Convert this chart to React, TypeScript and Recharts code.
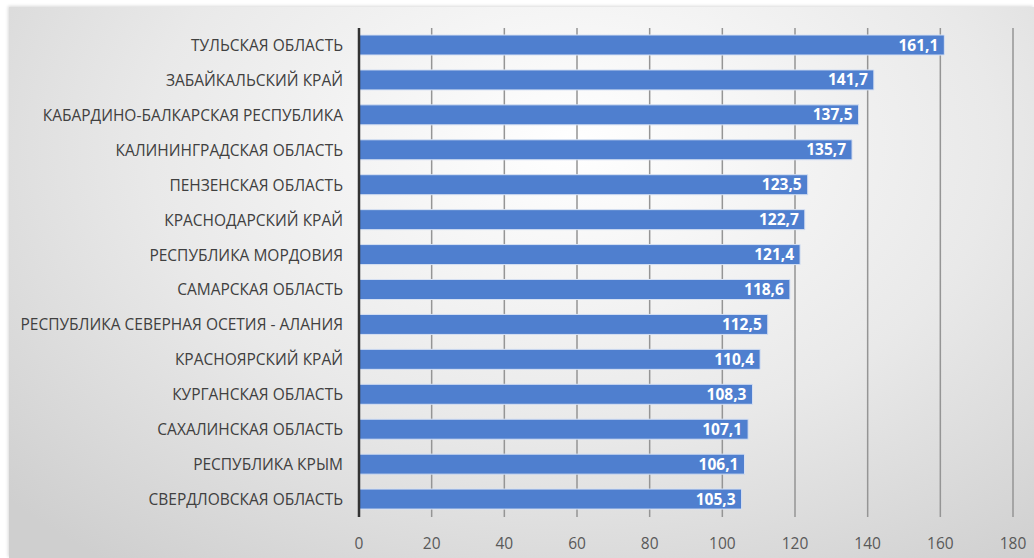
import { BarChart, Bar, XAxis, YAxis, CartesianGrid, LabelList } from "recharts";

const regions = [
  "ТУЛЬСКАЯ ОБЛАСТЬ",
  "ЗАБАЙКАЛЬСКИЙ КРАЙ",
  "КАБАРДИНО-БАЛКАРСКАЯ РЕСПУБЛИКА",
  "КАЛИНИНГРАДСКАЯ ОБЛАСТЬ",
  "ПЕНЗЕНСКАЯ ОБЛАСТЬ",
  "КРАСНОДАРСКИЙ КРАЙ",
  "РЕСПУБЛИКА МОРДОВИЯ",
  "САМАРСКАЯ ОБЛАСТЬ",
  "РЕСПУБЛИКА СЕВЕРНАЯ ОСЕТИЯ - АЛАНИЯ",
  "КРАСНОЯРСКИЙ КРАЙ",
  "КУРГАНСКАЯ ОБЛАСТЬ",
  "САХАЛИНСКАЯ ОБЛАСТЬ",
  "РЕСПУБЛИКА КРЫМ",
  "СВЕРДЛОВСКАЯ ОБЛАСТЬ",
];

const values = [161.1, 141.7, 137.5, 135.7, 123.5, 122.7, 121.4, 118.6, 112.5, 110.4, 108.3, 107.1, 106.1, 105.3];

const xTicks = [0, 20, 40, 60, 80, 100, 120, 140, 160, 180];

const data = regions.map((region, i) => ({ region, value: values[i] }));

const font = "'Open Sans', 'DejaVu Sans', sans-serif";

export default function App() {
  return (
    <div style={{ position: "absolute", left: 0, top: 0, width: 1034, height: 558, background: "#fff" }}>
      <div
        style={{
          position: "absolute",
          left: 9,
          top: 7,
          width: 1025,
          height: 551,
          background: "radial-gradient(ellipse 75% 95% at 55% 25%, #ffffff 0%, #e9e9e9 55%, #cfcfcf 100%)",
          boxShadow: "-1px -1px 3px rgba(0,0,0,0.15)",
        }}
      />
      <div style={{ position: "absolute", left: 0, top: 0 }}>
        <BarChart
          width={1034}
          height={558}
          data={data}
          layout="vertical"
          margin={{ top: 28, right: 21, bottom: 11, left: 0 }}
        >
          <CartesianGrid horizontal={false} stroke="#959595" strokeWidth={1.5} />
          <XAxis
            type="number"
            domain={[0, 180]}
            ticks={xTicks}
            height={30}
            axisLine={false}
            tickLine={false}
            tickMargin={15}
            tick={{ fill: "#595959", fontSize: 15.5, fontFamily: font }}
          />
          <YAxis
            type="category"
            dataKey="region"
            width={359}
            axisLine={{ stroke: "#333", strokeWidth: 2.5 }}
            tickLine={false}
            tickMargin={10}
            tick={{ fill: "#404040", fontSize: 15.5, fontFamily: font }}
          />
          <Bar dataKey="value" fill="#4f7fcf" stroke="#d6e0f2" strokeWidth={1} barSize={20} isAnimationActive={false}>
            <LabelList
              dataKey="value"
              position="insideRight"
              offset={6}
              formatter={(v: number) => v.toFixed(1).replace(".", ",")}
              style={{ fill: "#fff", fontSize: 15.5, fontWeight: 700, fontFamily: font }}
            />
          </Bar>
        </BarChart>
      </div>
    </div>
  );
}
